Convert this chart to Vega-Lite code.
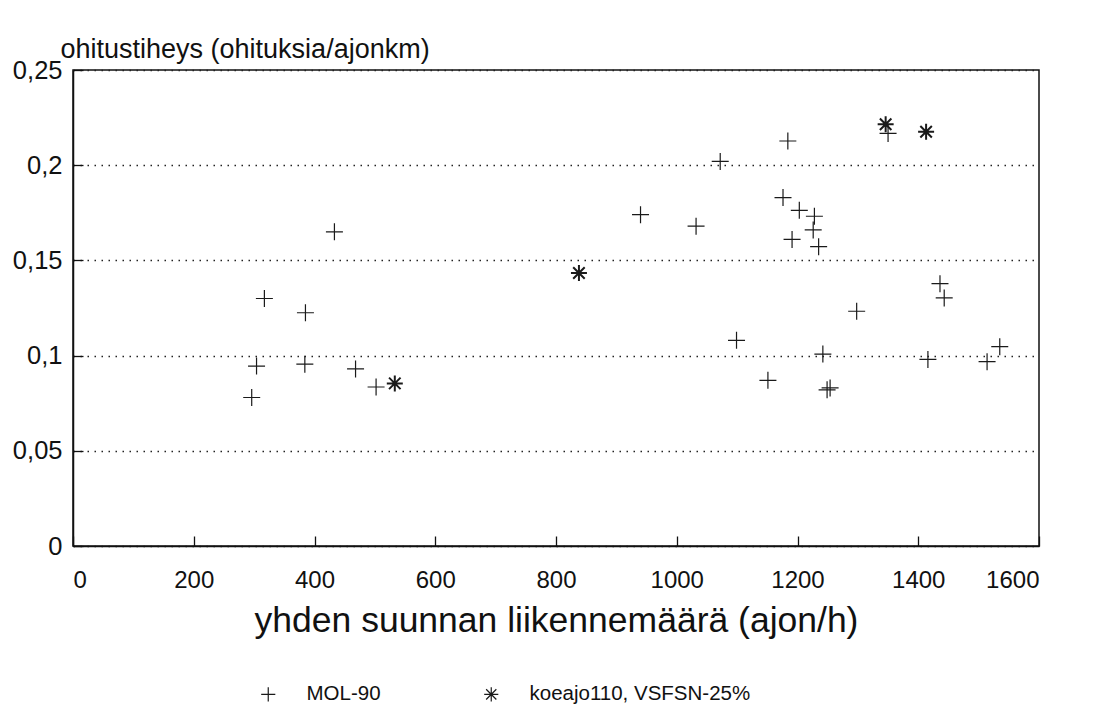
{
  "$schema": "https://vega.github.io/schema/vega-lite/v6.json",
  "width": 966,
  "height": 476,
  "autosize": {"type": "none"},
  "padding": {"left": 73, "top": 70, "right": 65, "bottom": 177},
  "background": "white",
  "config": {
    "font": "Liberation Sans",
    "view": {"stroke": "#111", "strokeWidth": 1.5},
    "axis": {"labelColor": "#111", "titleColor": "#111", "domainColor": "#111", "tickColor": "#111", "labelFont": "Liberation Sans", "titleFont": "Liberation Sans", "titleFontWeight": "normal"}
  },
  "data": {
    "values": [
      {"flow": 296, "rate": 0.078, "series": "MOL-90"},
      {"flow": 304, "rate": 0.0945, "series": "MOL-90"},
      {"flow": 317, "rate": 0.13, "series": "MOL-90"},
      {"flow": 384, "rate": 0.0955, "series": "MOL-90"},
      {"flow": 385, "rate": 0.1225, "series": "MOL-90"},
      {"flow": 433, "rate": 0.165, "series": "MOL-90"},
      {"flow": 468, "rate": 0.093, "series": "MOL-90"},
      {"flow": 502, "rate": 0.0835, "series": "MOL-90"},
      {"flow": 940, "rate": 0.174, "series": "MOL-90"},
      {"flow": 1032, "rate": 0.168, "series": "MOL-90"},
      {"flow": 1072, "rate": 0.202, "series": "MOL-90"},
      {"flow": 1099, "rate": 0.108, "series": "MOL-90"},
      {"flow": 1151, "rate": 0.087, "series": "MOL-90"},
      {"flow": 1176, "rate": 0.183, "series": "MOL-90"},
      {"flow": 1184, "rate": 0.2127, "series": "MOL-90"},
      {"flow": 1191, "rate": 0.161, "series": "MOL-90"},
      {"flow": 1203, "rate": 0.1763, "series": "MOL-90"},
      {"flow": 1226, "rate": 0.166, "series": "MOL-90"},
      {"flow": 1228, "rate": 0.1732, "series": "MOL-90"},
      {"flow": 1235, "rate": 0.1572, "series": "MOL-90"},
      {"flow": 1242, "rate": 0.1008, "series": "MOL-90"},
      {"flow": 1249, "rate": 0.082, "series": "MOL-90"},
      {"flow": 1254, "rate": 0.083, "series": "MOL-90"},
      {"flow": 1298, "rate": 0.1233, "series": "MOL-90"},
      {"flow": 1350, "rate": 0.2167, "series": "MOL-90"},
      {"flow": 1416, "rate": 0.098, "series": "MOL-90"},
      {"flow": 1436, "rate": 0.1378, "series": "MOL-90"},
      {"flow": 1443, "rate": 0.1303, "series": "MOL-90"},
      {"flow": 1514, "rate": 0.0968, "series": "MOL-90"},
      {"flow": 1535, "rate": 0.1047, "series": "MOL-90"},
      {"flow": 533, "rate": 0.0854, "series": "koeajo110, VSFSN-25%"},
      {"flow": 838, "rate": 0.1434, "series": "koeajo110, VSFSN-25%"},
      {"flow": 1346, "rate": 0.2215, "series": "koeajo110, VSFSN-25%"},
      {"flow": 1413, "rate": 0.2176, "series": "koeajo110, VSFSN-25%"}
    ]
  },
  "encoding": {
    "x": {
      "field": "flow",
      "type": "quantitative",
      "scale": {"domain": [0, 1600], "nice": false, "zero": true},
      "axis": {
        "values": [0, 200, 400, 600, 800, 1000, 1200, 1400, 1600],
        "grid": false,
        "tickSize": -10,
        "tickWidth": 1.3,
        "domainWidth": 1.5,
        "labelPadding": 32,
        "labelFontSize": 24,
        "format": "d",
        "title": "yhden suunnan liikennemäärä (ajon/h)",
        "titleFontSize": 35.5,
        "titlePadding": 11
      }
    },
    "y": {
      "field": "rate",
      "type": "quantitative",
      "scale": {"domain": [0, 0.25], "nice": false},
      "axis": {
        "values": [0, 0.05, 0.1, 0.15, 0.2, 0.25],
        "labelExpr": "replace(format(datum.value, '~g'), '.', ',')",
        "grid": true,
        "gridDash": [1.5, 5.5],
        "gridColor": "#222",
        "gridWidth": 1.4,
        "tickSize": -10,
        "tickWidth": 1.3,
        "domainWidth": 1.5,
        "labelPadding": 21,
        "labelFontSize": 25.5,
        "title": "ohitustiheys (ohituksia/ajonkm)",
        "titleFontSize": 27,
        "titleAngle": 0,
        "titleAlign": "left",
        "titleBaseline": "alphabetic",
        "titleX": -13,
        "titleY": -13
      }
    },
    "shape": {
      "field": "series",
      "type": "nominal",
      "scale": {
        "domain": ["MOL-90", "koeajo110, VSFSN-25%"],
        "range": [
          "M-1,0L1,0M0,-1L0,1",
          "M-1,0L1,0M0,-1L0,1M-0.72,-0.72L0.72,0.72M-0.72,0.72L0.72,-0.72"
        ]
      },
      "legend": {
        "title": null,
        "orient": "none",
        "direction": "horizontal",
        "legendX": 185,
        "legendY": 614,
        "labelFontSize": 20.5,
        "labelColor": "#111",
        "labelLimit": 0,
        "labelOffset": 28,
        "columnPadding": 100,
        "symbolSize": 200,
        "symbolStrokeColor": "#1a1a1a",
        "symbolFillColor": "transparent",
        "symbolStrokeWidth": 1.2
      }
    }
  },
  "layer": [
    {
      "transform": [{"filter": "datum.series === 'MOL-90'"}],
      "mark": {"type": "point", "filled": false, "color": "#1a1a1a", "opacity": 1, "size": 289, "strokeWidth": 1.2}
    },
    {
      "transform": [{"filter": "datum.series !== 'MOL-90'"}],
      "mark": {"type": "point", "filled": false, "color": "#1a1a1a", "opacity": 1, "size": 256, "strokeWidth": 2}
    }
  ]
}
